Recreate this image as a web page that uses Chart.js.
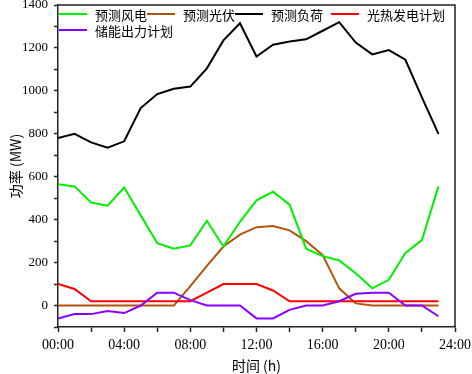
<!DOCTYPE html>
<html>
<head>
<meta charset="utf-8">
<script src="https://cdn.jsdelivr.net/npm/chart.js@4/dist/chart.umd.min.js"></script>
<style>
html,body{margin:0;padding:0;background:#fff;}
#c{display:block;}
</style>
</head>
<body>
<canvas id="c" width="472" height="374"></canvas>
<script>
const hours = [0,1,2,3,4,5,6,7,8,9,10,11,12,13,14,15,16,17,18,19,20,21,22,23];
const seriesNames = ['预测风电','预测光伏','预测负荷','光热发电计划','储能出力计划'];
const windForecast = [565,555,480,465,550,420,290,265,280,395,275,390,490,530,470,265,230,210,150,80,120,245,305,555];
const pvForecast = [0,0,0,0,0,0,0,0,90,185,275,330,365,370,350,300,235,80,10,0,0,0,0,0];
const loadForecast = [780,800,760,735,765,920,985,1010,1020,1105,1235,1315,1160,1215,1230,1240,1280,1320,1225,1170,1190,1145,970,800];
const cspPlan = [100,77,20,20,20,20,20,20,20,60,100,100,100,70,20,20,20,20,20,20,20,20,20,20];
const storagePlan = [-60,-40,-40,-25,-35,0,60,60,25,0,0,0,-60,-60,-20,0,0,20,55,60,60,0,0,-50];
const xTickValues = [0,4,8,12,16,20,24];
const yLabelValues = [0,200,400,600,800,1000,1200,1400];

const colors = ['#00f000','#b4540c','#000000','#ff0000','#8a00ff'];
const seriesData = [windForecast,pvForecast,loadForecast,cspPlan,storagePlan];
const drawOrder = [3,4,2,1,0];

const serif = '"Liberation Serif", "Times New Roman", serif';
const cjk = '"Noto Sans CJK SC", sans-serif';

const datasets = seriesNames.map((name,i)=>({
  label: name,
  data: hours.map((h,k)=>({x:h,y:seriesData[i][k]})),
  borderColor: colors[i],
  backgroundColor: colors[i],
  borderWidth: 2,
  pointRadius: 0,
  tension: 0,
  fill: false,
  order: drawOrder[i]
}));

const frameAndLegend = {
  id: 'frameAndLegend',
  afterDraw(chart){
    const ctx = chart.ctx, a = chart.chartArea;
    ctx.save();
    ctx.strokeStyle = '#222';
    ctx.lineWidth = 1.5;
    ctx.beginPath();
    ctx.moveTo(a.left, a.top); ctx.lineTo(a.right, a.top); ctx.lineTo(a.right, a.bottom);
    ctx.stroke();
    const items = [
      {i:0, lx:59, y:14},{i:1, lx:147, y:14},{i:2, lx:235, y:14},{i:3, lx:331, y:14},
      {i:4, lx:59, y:30}
    ];
    ctx.font = '13px ' + cjk;
    ctx.textBaseline = 'middle';
    ctx.textAlign = 'left';
    items.forEach(it=>{
      ctx.strokeStyle = colors[it.i];
      ctx.lineWidth = 2;
      ctx.beginPath();
      ctx.moveTo(it.lx, it.y); ctx.lineTo(it.lx+28, it.y);
      ctx.stroke();
      ctx.fillStyle = '#000';
      ctx.fillText(seriesNames[it.i], it.lx+36, it.y+1);
    });
    ctx.restore();
  }
};

new Chart(document.getElementById('c'), {
  type: 'line',
  data: { datasets },
  options: {
    responsive: false,
    animation: false,
    devicePixelRatio: 1,
    layout: { padding: { top: 5, right: 17, left: 0, bottom: 0 } },
    plugins: { legend: { display: false }, tooltip: { enabled: false } },
    scales: {
      x: {
        type: 'linear', min: 0, max: 24,
        afterBuildTicks: s => { s.ticks = [0,2,4,6,8,10,12,14,16,18,20,22,24].map(v=>({value:v})); },
        ticks: {
          autoSkip: false, maxRotation: 0, padding: 5,
          color: '#000', font: { family: serif, size: 14 },
          callback: v => xTickValues.includes(v) ? String(v).padStart(2,'0') + ':00' : ''
        },
        grid: { drawOnChartArea: false, drawTicks: true, tickLength: 5, color: '#222', tickWidth: 1.5 },
        border: { display: true, color: '#222', width: 1.5 },
        title: { display: true, text: '时间 (h)', color: '#000', font: { family: cjk, size: 14 }, padding: { top: 0, bottom: 0 } },
        afterFit: s => { s.height = 47; s.paddingLeft = 0; s.paddingRight = 0; }
      },
      y: {
        type: 'linear', min: -100, max: 1400,
        ticks: {
          stepSize: 100, padding: 6, autoSkip: false,
          color: '#000', font: { family: serif, size: 13 },
          callback: v => yLabelValues.includes(v) ? String(v) : ''
        },
        grid: { drawOnChartArea: false, drawTicks: true, tickLength: 4, color: '#222', tickWidth: 1.5 },
        border: { display: true, color: '#222', width: 1.5 },
        title: { display: true, text: '功率 (MW)', color: '#000', font: { family: cjk, size: 14 }, padding: { top: 7, bottom: 0 } },
        afterFit: s => { s.width = 58; s.paddingTop = 0; s.paddingBottom = 0; }
      }
    }
  },
  plugins: [frameAndLegend]
});
</script>
</body>
</html>
